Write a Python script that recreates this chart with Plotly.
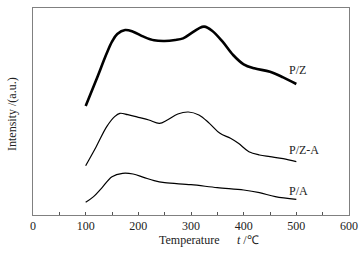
import plotly.graph_objects as go

# Temperature (°C) and intensity (a.u., arbitrary offset scale)
t_pz = [100, 120, 140, 150, 160, 175, 190, 210, 230, 250, 270, 285, 300, 315, 325, 340, 360, 380, 400, 420, 450, 475, 500]
y_pz_px = [318, 240, 160, 125, 102, 90, 95, 110, 121, 123, 120, 115, 100, 85, 80, 92, 125, 165, 193, 205, 215, 232, 252]

t_pza = [100, 120, 140, 155, 165, 180, 200, 220, 240, 255, 275, 295, 315, 335, 355, 375, 390, 410, 430, 450, 475, 500]
y_pza_px = [497, 440, 380, 350, 340, 344, 352, 360, 370, 360, 342, 336, 345, 370, 400, 415, 430, 455, 465, 470, 476, 485]

t_pa = [100, 115, 130, 150, 170, 190, 210, 230, 250, 300, 350, 400, 430, 460, 500]
y_pa_px = [607, 590, 565, 530, 520, 522, 532, 542, 548, 554, 563, 570, 578, 590, 598]

def conv(v):
    return [(645 - p) / 100 for p in v]

y_pz = conv(y_pz_px)
y_pza = conv(y_pza_px)
y_pa = conv(y_pa_px)

labels = ["P/Z", "P/Z-A", "P/A"]
label_y = [conv([210])[0], conv([450])[0], conv([572])[0]]

fig = go.Figure()
fig.add_trace(go.Scatter(x=t_pz, y=y_pz, mode="lines", line=dict(color="black", width=2.6, shape="spline", smoothing=1.0)))
fig.add_trace(go.Scatter(x=t_pza, y=y_pza, mode="lines", line=dict(color="black", width=1.2, shape="spline", smoothing=1.0)))
fig.add_trace(go.Scatter(x=t_pa, y=y_pa, mode="lines", line=dict(color="black", width=1.2, shape="spline", smoothing=1.0)))

for lab, yy in zip(labels, label_y):
    fig.add_annotation(x=482, y=yy, text=lab, showarrow=False, xanchor="left", yanchor="middle",
                       font=dict(family="Liberation Serif", size=12, color="#222"))

# axis titles as annotations (precise placement)
fig.add_annotation(xref="paper", yref="paper", x=(157 - 33) / 316, y=(215 - 240) / 207,
                   text="Temperature", showarrow=False, xanchor="left", yanchor="middle",
                   font=dict(family="Liberation Serif", size=12, color="#222"))
fig.add_annotation(xref="paper", yref="paper", x=(235 - 33) / 316, y=(215 - 240) / 207,
                   text="<i>t</i> /℃", showarrow=False, xanchor="left", yanchor="middle",
                   font=dict(family="Liberation Serif", size=12, color="#222"))
fig.add_annotation(xref="paper", yref="paper", x=(12 - 33) / 316, y=(215 - 114) / 207,
                   text="Intensity /(a.u.)", showarrow=False, xanchor="center", yanchor="middle",
                   textangle=-90, font=dict(family="Liberation Serif", size=12, color="#222"))

fig.update_layout(
    width=364, height=253,
    margin=dict(l=33, r=15, t=8, b=38),
    plot_bgcolor="white", paper_bgcolor="white",
    showlegend=False,
    font=dict(family="Liberation Serif", size=12, color="#222"),
    xaxis=dict(range=[0, 600], dtick=100, tick0=0, ticks="inside", ticklen=3, tickcolor="#555",
               showline=True, mirror=True, linecolor="#808080", linewidth=1, showgrid=False, zeroline=False,
               minor=dict(ticks="inside", dtick=50, ticklen=3, tickcolor="#555"),
               automargin=False, tickfont=dict(size=12, color="#222")),
    yaxis=dict(range=[0, 6.21], showticklabels=False, ticks="", showline=True, mirror=True,
               linecolor="#808080", linewidth=1, showgrid=False, zeroline=False, automargin=False),
)

fig.write_html("out.html", config={"displayModeBar": False},
               post_script="document.body.style.margin='0';document.body.style.padding='0';")
